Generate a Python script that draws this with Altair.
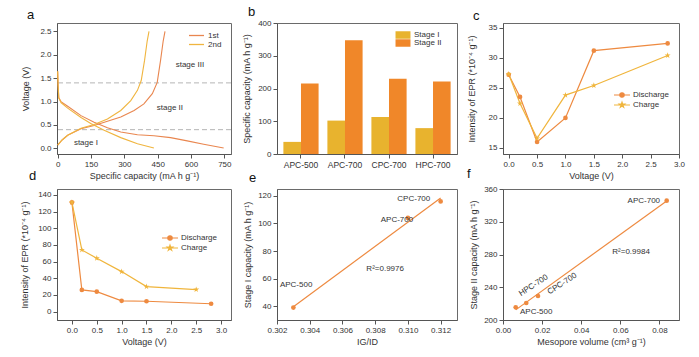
import altair as alt
import pandas as pd

# ---------------- data ----------------
# panel a: charge/discharge profiles
c1_dis_cap = [0, 2, 5, 15, 45, 105, 164, 224, 284, 359, 433, 508, 583, 657, 747]
c1_dis_v = [1.65, 1.35, 1.08, 1.00, 0.90, 0.70, 0.56, 0.44, 0.35, 0.29, 0.27, 0.23, 0.16, 0.09, 0.01]
c1_chg_cap = [0, 20, 45, 105, 164, 224, 284, 344, 388, 426, 448, 463, 475, 483]
c1_chg_v = [0.07, 0.18, 0.28, 0.42, 0.49, 0.58, 0.67, 0.81, 0.95, 1.17, 1.41, 1.88, 2.30, 2.50]
c2_dis_cap = [0, 2, 5, 15, 45, 105, 149, 209, 284, 359, 433]
c2_dis_v = [1.65, 1.35, 1.08, 0.98, 0.86, 0.66, 0.53, 0.39, 0.23, 0.10, 0.01]
c2_chg_cap = [0, 20, 45, 105, 164, 224, 284, 329, 359, 376, 391, 403, 411]
c2_chg_v = [0.07, 0.18, 0.28, 0.43, 0.51, 0.63, 0.81, 1.02, 1.24, 1.45, 1.88, 2.30, 2.50]
stage_bounds = [1.4, 0.4]
stage_names = ["stage III", "stage II", "stage I"]
stage_cap = [595, 505, 127]
stage_v = [1.79, 0.87, 0.12]

# panel b
samples = ["APC-500", "APC-700", "CPC-700", "HPC-700"]
stage1 = [37, 102, 113, 79]
stage2 = [215, 347, 230, 221]

# panel c
c_dis_v = [0, 0.2, 0.5, 1.0, 1.5, 2.8]
c_dis_epr = [27.2, 23.5, 16.0, 20.0, 31.2, 32.4]
c_chg_v = [0, 0.2, 0.5, 1.0, 1.5, 2.8]
c_chg_epr = [27.3, 22.4, 16.6, 23.8, 25.4, 30.4]

# panel d
d_dis_v = [0, 0.2, 0.5, 1.0, 1.5, 2.8]
d_dis_epr = [131, 26, 24, 13, 12.5, 9.5]
d_chg_v = [0, 0.2, 0.5, 1.0, 1.5, 2.5]
d_chg_epr = [131, 74, 64, 48, 30, 26.5]

# panel e
e_samples = ["APC-500", "APC-700", "CPC-700"]
e_igid = [0.303, 0.310, 0.312]
e_cap = [39, 104, 116]
e_lab_x = [0.30317, 0.30933, 0.31036, 0.30861]
e_lab_y = [55.6, 102.5, 117.6, 67.1]
e_lab = ["APC-500", "APC-700", "CPC-700", "R²=0.9976"]

# panel f
f_samples = ["APC-500", "HPC-700", "CPC-700", "APC-700"]
f_meso = [0.0065, 0.0119, 0.0179, 0.0837]
f_cap = [215.5, 220.8, 229.3, 345.7]
f_lab_x = [0.0170, 0.0157, 0.0303, 0.0720, 0.0655]
f_lab_y = [209.4, 242, 244, 345.7, 282.6]
f_lab = ["APC-500", "HPC-700", "CPC-700", "APC-700", "R²=0.9984"]
f_lab_angle = [0, 327, 327, 0, 0]

# ---------------- style ----------------
C1 = "#e9864f"
C2 = "#f0b53f"
C_OR = "#ee8a40"
C_YE = "#f0b53c"
B1 = "#e8b32e"
B2 = "#f08729"
TXT = "#333333"
FONT = "Liberation Sans"

STAR = ("M0,-1L0.2245,-0.309L0.9511,-0.309L0.3633,0.118L0.5878,0.809L0,0.382"
        "L-0.5878,0.809L-0.3633,0.118L-0.9511,-0.309L-0.2245,-0.309Z")
CIRC_LEG = "M-2,0L2,0M-0.55,0A0.55,0.55 0 1,0 0.55,0A0.55,0.55 0 1,0 -0.55,0Z"
STAR_LEG = ("M-2,0L2,0M0,-0.7L0.157,-0.216L0.666,-0.216L0.254,0.083L0.411,0.566L0,0.267"
            "L-0.411,0.566L-0.254,0.083L-0.666,-0.216L-0.157,-0.216Z")
RECT_LEG = "M-2,-1L2,-1L2,1L-2,1Z"

W1, W2, W3, H = 174, 180, 176, 131


def ax(**kw):
    return alt.Axis(labelOverlap=False, labelFlush=False, tickCount=50, **kw)


def letter(t, dx, dy):
    return alt.Title(t, anchor="start", frame="group", dx=dx, dy=dy, fontSize=13,
                     fontWeight="normal", color="#111", font=FONT, offset=0)


# ---------------- panel a ----------------
rows = []
for cyc, seg, xs, ys in [("1st", "d", c1_dis_cap, c1_dis_v), ("1st", "c", c1_chg_cap, c1_chg_v),
                         ("2nd", "d", c2_dis_cap, c2_dis_v), ("2nd", "c", c2_chg_cap, c2_chg_v)]:
    for i, (x, y) in enumerate(zip(xs, ys)):
        rows.append(dict(cycle=cyc, seg=cyc + seg, cap=x, volt=y, order=i))
dfa = pd.DataFrame(rows)

xa = alt.Scale(domain=[-3, 780], nice=False, zero=False)
ya = alt.Scale(domain=[-0.12, 2.68], nice=False, zero=False)

lines_a = alt.Chart(dfa).mark_line(strokeWidth=1.1).encode(
    x=alt.X("cap:Q", scale=xa, axis=ax(values=[0, 150, 300, 450, 600, 750],
                                        title="Specific capacity (mA h g⁻¹)")),
    y=alt.Y("volt:Q", scale=ya, axis=ax(values=[0, 0.5, 1.0, 1.5, 2.0, 2.5], format=".1f",
                                         title="Voltage (V)", titlePadding=9)),
    color=alt.Color("cycle:N", scale=alt.Scale(domain=["1st", "2nd"], range=[C1, C2]),
                    legend=alt.Legend(title=None, orient="none", legendX=135, legendY=8,
                                      symbolType="M-2,0L2,0", symbolSize=56, symbolStrokeWidth=1.3,
                                      labelFontSize=8, labelOffset=7, rowPadding=-1.5)),
    detail="seg:N",
    order="order:Q",
)
rule_a = alt.Chart(pd.DataFrame({"v": stage_bounds})).mark_rule(
    color="#b5b5b5", strokeDash=[5, 3], strokeWidth=1).encode(y=alt.Y("v:Q", scale=ya))
text_a = alt.Chart(pd.DataFrame({"t": stage_names, "x": stage_cap, "y": stage_v})).mark_text(
    fontSize=8, color=TXT, font=FONT).encode(x=alt.X("x:Q", scale=xa), y=alt.Y("y:Q", scale=ya), text="t:N")
pa = alt.layer(rule_a, lines_a, text_a).properties(width=W1, height=H, title=letter("a", -30, -1))

# ---------------- panel b ----------------
dfb = pd.DataFrame({"sample": samples * 2,
                    "stage": ["Stage I"] * 4 + ["Stage II"] * 4,
                    "cap": stage1 + stage2})
pb = alt.Chart(dfb).mark_bar().encode(
    x=alt.X("sample:N", sort=samples, scale=alt.Scale(paddingInner=0.2, paddingOuter=0.145),
            axis=alt.Axis(title=None, labelAngle=0, labelFontSize=8.5, labelOverlap=False)),
    xOffset=alt.XOffset("stage:N", scale=alt.Scale(paddingInner=0, paddingOuter=0)),
    y=alt.Y("cap:Q", scale=alt.Scale(domain=[0, 400], nice=False),
            axis=ax(values=[0, 100, 200, 300, 400], title="Specific capacity (mA h g⁻¹)",
                    titlePadding=6)),
    color=alt.Color("stage:N", scale=alt.Scale(domain=["Stage I", "Stage II"], range=[B1, B2]),
                    legend=alt.Legend(title=None, orient="none", legendX=122, legendY=8,
                                      symbolType=RECT_LEG, symbolSize=56, symbolStrokeWidth=0,
                                      labelFontSize=8, labelOffset=7, rowPadding=0)),
).properties(width=W2, height=H, title=letter("b", -29, 0))


# ---------------- panels c, d ----------------
def epr_panel(dv, de, cv, ce, xdom, ydom, yvals, lx, ly, rp, let, ldx, ldy, tpad, w):
    xs = alt.Scale(domain=xdom, nice=False, zero=False)
    ys = alt.Scale(domain=ydom, nice=False, zero=False)
    xax = ax(values=[0, 0.5, 1.0, 1.5, 2.0, 2.5, 3.0], format=".1f", title="Voltage (V)")
    yax = ax(values=yvals, format="d", title="Intensity of EPR (*10⁻⁴ g⁻¹)", titlePadding=tpad)
    dfd = pd.DataFrame({"v": dv, "e": de})
    dfc = pd.DataFrame({"v": cv, "e": ce})
    ld = alt.Chart(dfd).mark_line(color=C_OR, strokeWidth=1.2).encode(
        x=alt.X("v:Q", scale=xs, axis=xax), y=alt.Y("e:Q", scale=ys, axis=yax))
    lc = alt.Chart(dfc).mark_line(color=C_YE, strokeWidth=1.2).encode(x="v:Q", y="e:Q")
    pdis = alt.Chart(dfd).mark_point(shape="circle", filled=True, size=22, color=C_OR, opacity=1).encode(
        x="v:Q", y="e:Q")
    pchg = alt.Chart(dfc).mark_point(shape=STAR, filled=True, size=40, color=C_YE, opacity=1).encode(
        x="v:Q", y="e:Q")
    leg = alt.Legend(title=None, orient="none", legendX=lx, legendY=ly, symbolSize=64,
                     symbolStrokeWidth=1.2, labelFontSize=8, labelOffset=6, rowPadding=rp)
    dom = ["Discharge", "Charge"]
    hidden = alt.Chart(pd.DataFrame({"series": dom})).transform_filter("false").mark_point(
        filled=True, opacity=1).encode(
        fill=alt.Fill("series:N", scale=alt.Scale(domain=dom, range=[C_OR, C_YE]), legend=leg),
        stroke=alt.Stroke("series:N", scale=alt.Scale(domain=dom, range=[C_OR, C_YE]), legend=leg),
        shape=alt.Shape("series:N", scale=alt.Scale(domain=dom, range=[CIRC_LEG, STAR_LEG]), legend=leg),
    )
    return alt.layer(ld, lc, pdis, pchg, hidden).properties(width=w, height=H,
                                                          title=letter(let, ldx, ldy))


pc = epr_panel(c_dis_v, c_dis_epr, c_chg_v, c_chg_epr, [-0.1, 3.0], [14, 35.8],
               [15, 20, 25, 30, 35], 114, 67, -2, "c", -30, 0, 12, W3)
pd_ = epr_panel(d_dis_v, d_dis_epr, d_chg_v, d_chg_epr, [-0.3, 3.2], [-10, 147],
                [0, 20, 40, 60, 80, 100, 120, 140], 108, 44, -1, "d", -28, -6, 8, W1)

# ---------------- panel e ----------------
xe = alt.Scale(domain=[0.302, 0.313], nice=False, zero=False)
ye = alt.Scale(domain=[30, 125], nice=False, zero=False)
dfe = pd.DataFrame({"x": e_igid, "y": e_cap, "s": e_samples})
fit_e = alt.Chart(dfe).transform_regression("x", "y").mark_line(color=C_OR, strokeWidth=1.2).encode(
    x=alt.X("x:Q", scale=xe, axis=ax(values=[0.302, 0.304, 0.306, 0.308, 0.310, 0.312],
                                      format=".3f", title="IG/ID")),
    y=alt.Y("y:Q", scale=ye, axis=ax(values=[40, 60, 80, 100, 120],
                                      title="Stage I capacity (mA h g⁻¹)", titlePadding=5)))
pts_e = alt.Chart(dfe).mark_circle(size=22, color=C_OR, opacity=1).encode(x="x:Q", y="y:Q")
lab_e = alt.Chart(pd.DataFrame({"x": e_lab_x, "y": e_lab_y, "t": e_lab})).mark_text(
    fontSize=8, color=TXT, font=FONT).encode(x="x:Q", y="y:Q", text="t:N")
pe = alt.layer(fit_e, pts_e, lab_e).properties(width=W2, height=H, title=letter("e", -28, -4))

# ---------------- panel f ----------------
xf = alt.Scale(domain=[0, 0.09], nice=False, zero=False)
yf = alt.Scale(domain=[200, 360], nice=False, zero=False)
dff = pd.DataFrame({"x": f_meso, "y": f_cap, "s": f_samples})
fit_f = alt.Chart(dff).transform_regression("x", "y").mark_line(color=C_OR, strokeWidth=1.2).encode(
    x=alt.X("x:Q", scale=xf, axis=ax(values=[0, 0.02, 0.04, 0.06, 0.08], format=".2f",
                                      title="Mesopore volume (cm³ g⁻¹)")),
    y=alt.Y("y:Q", scale=yf, axis=ax(values=[200, 240, 280, 320, 360],
                                      title="Stage II capacity (mA h g⁻¹)", titlePadding=5)))
pts_f = alt.Chart(dff).mark_circle(size=22, color=C_OR, opacity=1).encode(x="x:Q", y="y:Q")
lab_f = alt.Chart(pd.DataFrame({"x": f_lab_x, "y": f_lab_y, "t": f_lab, "a": f_lab_angle})).mark_text(
    fontSize=8, color=TXT, font=FONT).encode(x="x:Q", y="y:Q", text="t:N",
                                              angle=alt.Angle("a:Q", scale=None))
pf = alt.layer(fit_f, pts_f, lab_f).properties(width=W3, height=H, title=letter("f", -36, -4))

chart = alt.concat(pa, pb, pc, pd_, pe, pf, columns=3, spacing={"row": 35, "column": 46},
                   bounds="flush").resolve_scale(
    color="independent", fill="independent", stroke="independent", shape="independent"
).resolve_legend(
    color="independent", fill="independent", stroke="independent", shape="independent"
).properties(
    padding={"left": 20, "top": 5, "right": 0, "bottom": 0}
).configure(font=FONT).configure_view(stroke="#6a6a6a", strokeWidth=1).configure_axis(
    grid=False, labelFontSize=8, titleFontSize=9, titleFontWeight="normal", labelColor=TXT,
    titleColor=TXT, domainColor="#555", tickColor="#555", tickSize=4, labelPadding=2,
    titlePadding=3, labelFont=FONT, titleFont=FONT, labelOverlap=False
).configure_legend(labelFont=FONT, labelColor=TXT, padding=0)

chart.save("out.html", embed_options={"renderer": "svg", "actions": False})
